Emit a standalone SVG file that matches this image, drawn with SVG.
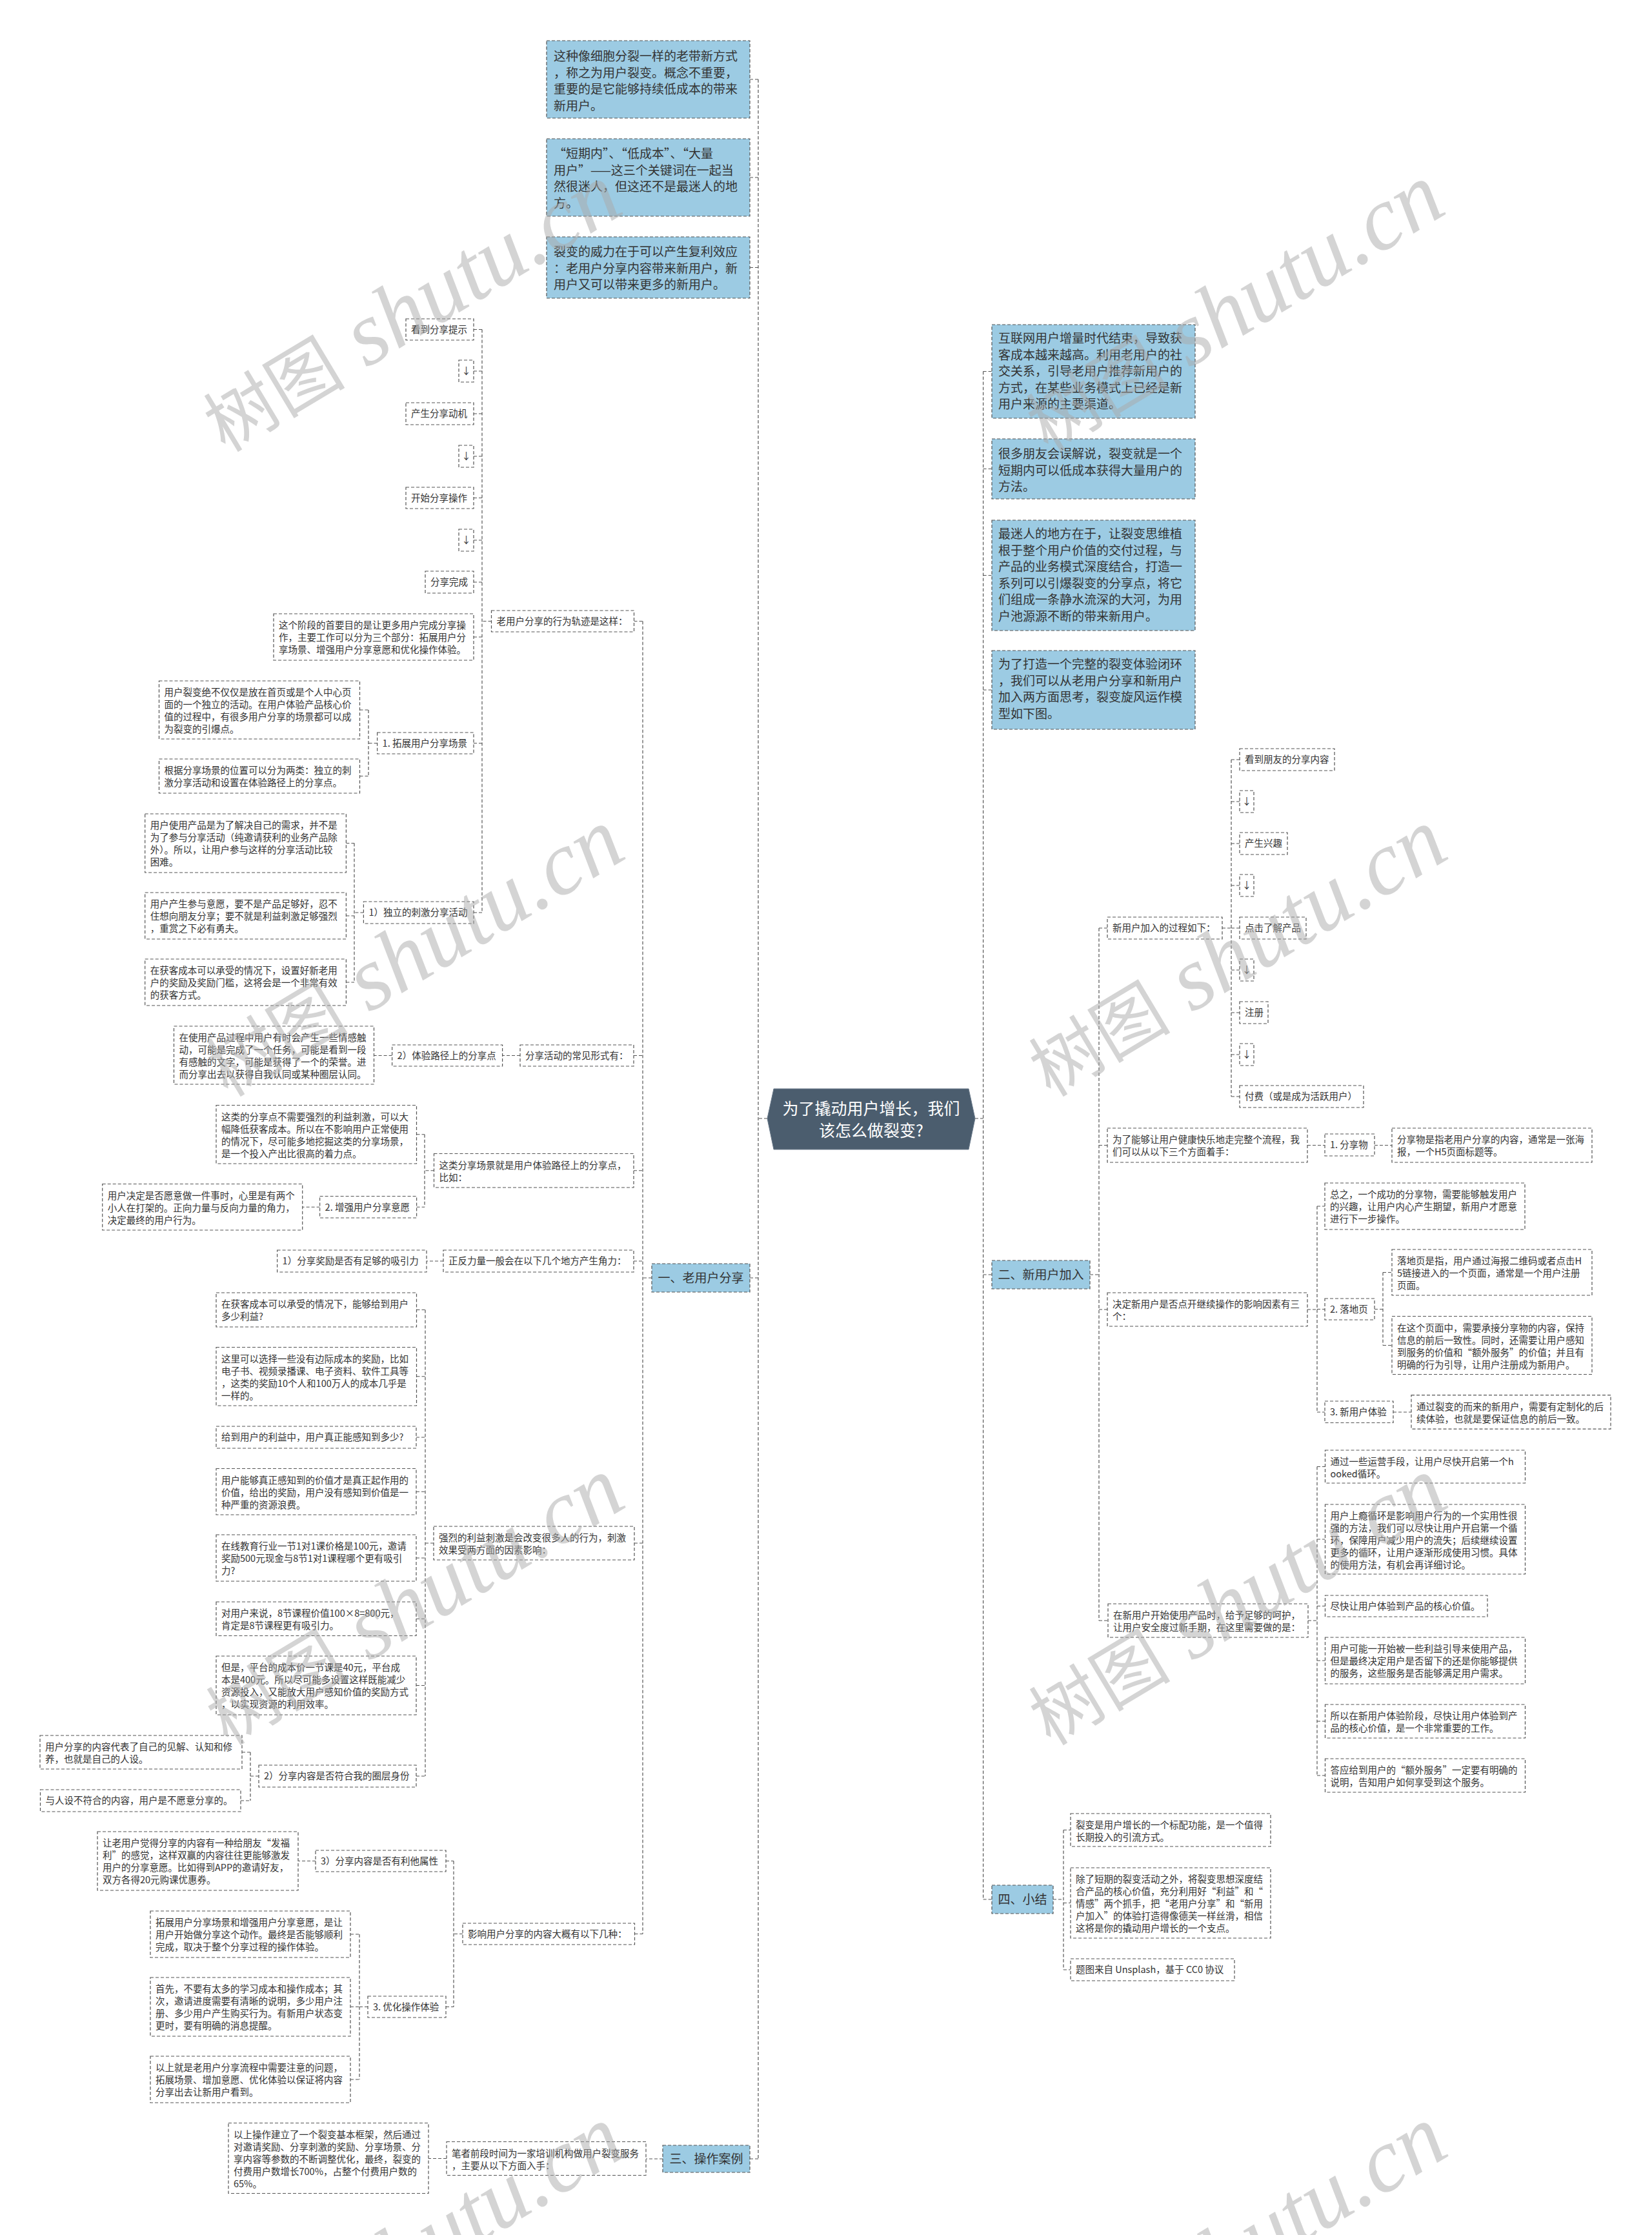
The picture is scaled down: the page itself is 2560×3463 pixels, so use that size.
<svg xmlns="http://www.w3.org/2000/svg" xmlns:xlink="http://www.w3.org/1999/xlink" width="2560" height="3463" viewBox="0 0 2560 3463">
<style>
.n{fill:#fff;stroke:#555;stroke-width:1.2;stroke-dasharray:5 3}
.b{fill:#9ccbe3;stroke:#555;stroke-width:1.2;stroke-dasharray:5 3}
.t{font-family:"Noto Sans CJK SC","Noto Sans",sans-serif;font-size:14.5px;fill:#333}
.tb{font-family:"Noto Sans CJK SC","Noto Sans",sans-serif;font-size:19px;fill:#333}
.tc{font-family:"Noto Sans CJK SC","Noto Sans",sans-serif;font-size:25px;fill:#fff}
.m{text-anchor:middle}
.c{fill:none;stroke:#555;stroke-width:1.2;stroke-dasharray:5 3}
.wm{fill:#aaa;opacity:.5}
</style>
<defs>
<text id="wm" class="wm" transform="rotate(-31)"><tspan style="font-family:'Noto Sans CJK SC',sans-serif;font-size:110px">树图</tspan><tspan style="font-family:'Liberation Serif',serif;font-style:italic;font-size:140px"> shutu.cn</tspan></text>
</defs>
<rect width="2560" height="3463" fill="#fff"/>
<g id="connectors">
<path class="c" d="M1175,123V3345M1162,123H1175M1162,275H1175M1162,414.5H1175M1162,1980H1175M1162,3345H1175M1189,1733H1175
M1523.6,575.5V2943M1523.6,575.5H1537M1523.6,726.5H1537M1523.6,891.5H1537M1523.6,1069H1537M1523.6,1975H1537M1523.6,2943H1537M1511,1733H1523.6
M996,962.5V2996.5M982.5,962.5H996M982,1635.5H996M982,1813.75H996M982,1954H996M983,2391H996M983.5,2996.5H996M1010,1980H996
M747,510.5V1414M761.5,962.5H747M734,510.5H747M734,575H747M734,641H747M734,707H747M734,771.5H747M734,837H747M734,902H747M734,987H747M734,1151.5H747M734,1414H747
M571,1100V1202.5M584.6,1151.5H571M557.5,1100H571M557.5,1202.5H571
M549,1306.5V1522M563.4,1414H549M536.4,1306.5H549M536.4,1419H549M536.4,1522H549
M806,1635.5H778.6M607.6,1635.5H579.5
M658,1757.75V1870.25M672.5,1813.75H658M645.5,1757.75H658M645.6,1870.25H658
M495.6,1870.25H468.7M687,1954H661
M659,2029.5V2752M672,2391H659M645.5,2029.5H659M645.5,2132.75H659M645,2227H659M645,2311.25H659M645,2414H659M645,2508.25H659M645,2611.5H659M645,2752H659
M388,2715V2790M401,2752H388M375,2715H388M373,2790H388
M703,2883.5V3109.5M717,2996.5H703M691,2883.5H703M691,3109.5H703
M489,2883.5H462
M557,2997V3222M570,3109.5H557M543,2997H557M543,3109.5H557M543,3222H557
M1027,3345H1001M692,3344.5H664
M1689,1975H1703M1703,1438V2511M1703,1438H1716M1703,1774.5H1716M1703,2029H1716M1703,2511H1717
M1894,1438H1908M1908,1177V1699M1908,1177H1921M1908,1242H1921M1908,1307H1921M1908,1372H1921M1908,1438H1921M1908,1503H1921M1908,1569H1921M1908,1634H1921M1908,1699H1921
M2026,1774.5H2053M2130,1774.5H2157
M2026,2029H2041M2041,1869V2188M2041,1869H2053M2041,2028.5H2053M2041,2188H2053
M2130,2028.5H2143M2143,1971.5V2084.5M2143,1971.5H2157M2143,2084.5H2157
M2159,2188H2187
M2027,2511H2041M2041,2272.5V2751M2041,2272.5H2053.5M2041,2385H2053.5M2041,2488.5H2053.5M2041,2573H2053.5M2041,2667H2053.5M2041,2751H2053.5
M1632,2943H1648M1648,2835.5V3052M1648,2835.5H1659M1648,2948.5H1659M1648,3052H1659"/>
</g>
<g id="center"><polygon points="1189,1733 1199,1687 1501,1687 1511,1733 1501,1781 1199,1781" fill="#4b5d6e" stroke="#6b7b8b"/><text class="tc m" x="1350" y="1727"><tspan x="1350">为了撬动用户增长，我们</tspan><tspan x="1350" dy="34">该怎么做裂变?</tspan></text></g>
<g id="a1"><rect class="b" x="847" y="63" width="315" height="120"/><text class="tb" x="858" y="94"><tspan x="858">这种像细胞分裂一样的老带新方式</tspan><tspan x="858" dy="25.5">，称之为用户裂变。概念不重要，</tspan><tspan x="858" dy="25.5">重要的是它能够持续低成本的带来</tspan><tspan x="858" dy="25.5">新用户。</tspan></text></g>
<g id="a2"><rect class="b" x="847" y="215" width="315" height="120"/><text class="tb" x="858" y="245"><tspan x="858">“短期内”、“低成本”、“大量</tspan><tspan x="858" dy="25.5">用户”——这三个关键词在一起当</tspan><tspan x="858" dy="25.5">然很迷人，但这还不是最迷人的地</tspan><tspan x="858" dy="25.5">方。</tspan></text></g>
<g id="a3"><rect class="b" x="847" y="367" width="315" height="95"/><text class="tb" x="858" y="397"><tspan x="858">裂变的威力在于可以产生复利效应</tspan><tspan x="858" dy="25.5">：老用户分享内容带来新用户，新</tspan><tspan x="858" dy="25.5">用户又可以带来更多的新用户。</tspan></text></g>
<g id="b1"><rect class="b" x="1537" y="503" width="315" height="145"/><text class="tb" x="1547" y="531"><tspan x="1547">互联网用户增量时代结束，导致获</tspan><tspan x="1547" dy="25.6">客成本越来越高。利用老用户的社</tspan><tspan x="1547" dy="25.6">交关系，引导老用户推荐新用户的</tspan><tspan x="1547" dy="25.6">方式，在某些业务模式上已经是新</tspan><tspan x="1547" dy="25.6">用户来源的主要渠道。</tspan></text></g>
<g id="b2"><rect class="b" x="1537" y="680" width="315" height="93"/><text class="tb" x="1547" y="710"><tspan x="1547">很多朋友会误解说，裂变就是一个</tspan><tspan x="1547" dy="25.6">短期内可以低成本获得大量用户的</tspan><tspan x="1547" dy="25.6">方法。</tspan></text></g>
<g id="b3"><rect class="b" x="1537" y="806" width="315" height="171"/><text class="tb" x="1547" y="834"><tspan x="1547">最迷人的地方在于，让裂变思维植</tspan><tspan x="1547" dy="25.6">根于整个用户价值的交付过程，与</tspan><tspan x="1547" dy="25.6">产品的业务模式深度结合，打造一</tspan><tspan x="1547" dy="25.6">系列可以引爆裂变的分享点，将它</tspan><tspan x="1547" dy="25.6">们组成一条静水流深的大河，为用</tspan><tspan x="1547" dy="25.6">户池源源不断的带来新用户。</tspan></text></g>
<g id="b4"><rect class="b" x="1537" y="1008" width="315" height="122"/><text class="tb" x="1547" y="1036"><tspan x="1547">为了打造一个完整的裂变体验闭环</tspan><tspan x="1547" dy="25.6">，我们可以从老用户分享和新用户</tspan><tspan x="1547" dy="25.6">加入两方面思考，裂变旋风运作模</tspan><tspan x="1547" dy="25.6">型如下图。</tspan></text></g>
<g id="l1"><rect class="b" x="1010" y="1958" width="152" height="44"/><text class="tb m" x="1086" y="1987">一、老用户分享</text></g>
<g id="l2"><rect class="b" x="1537" y="1953" width="152" height="44"/><text class="tb m" x="1613" y="1982">二、新用户加入</text></g>
<g id="l3"><rect class="b" x="1027" y="3324" width="135" height="42"/><text class="tb m" x="1094.5" y="3352">三、操作案例</text></g>
<g id="l4"><rect class="b" x="1537" y="2921" width="95" height="44"/><text class="tb m" x="1584.5" y="2950">四、小结</text></g>
<g id="s1"><rect class="n" x="629" y="494" width="105" height="33"/><text class="t" x="637" y="515.8">看到分享提示</text></g>
<g id="s2"><rect class="n" x="711" y="558" width="23" height="34"/><text class="t m" x="722.5" y="580.3">↓</text></g>
<g id="s3"><rect class="n" x="629" y="624" width="105" height="34"/><text class="t" x="637" y="646.3">产生分享动机</text></g>
<g id="s4"><rect class="n" x="711" y="690" width="23" height="34"/><text class="t m" x="722.5" y="712.3">↓</text></g>
<g id="s5"><rect class="n" x="629" y="755" width="105" height="33"/><text class="t" x="637" y="776.8">开始分享操作</text></g>
<g id="s6"><rect class="n" x="711" y="820" width="23" height="34"/><text class="t m" x="722.5" y="842.3">↓</text></g>
<g id="s7"><rect class="n" x="659" y="885" width="75" height="34"/><text class="t" x="667" y="907.3">分享完成</text></g>
<g id="s8"><rect class="n" x="424" y="951" width="310" height="72"/><text class="t" x="432" y="974"><tspan x="432">这个阶段的首要目的是让更多用户完成分享操</tspan><tspan x="432" dy="19.1">作，主要工作可以分为三个部分：拓展用户分</tspan><tspan x="432" dy="19.1">享场景、增强用户分享意愿和优化操作体验。</tspan></text></g>
<g id="s9"><rect class="n" x="761.5" y="946" width="221" height="33"/><text class="t" x="769.5" y="967.8">老用户分享的行为轨迹是这样：</text></g>
<g id="s10"><rect class="n" x="246.5" y="1055" width="311" height="90"/><text class="t" x="254.5" y="1078"><tspan x="254.5">用户裂变绝不仅仅是放在首页或是个人中心页</tspan><tspan x="254.5" dy="19.1">面的一个独立的活动。在用户体验产品核心价</tspan><tspan x="254.5" dy="19.1">值的过程中，有很多用户分享的场景都可以成</tspan><tspan x="254.5" dy="19.1">为裂变的引爆点。</tspan></text></g>
<g id="s11"><rect class="n" x="246.5" y="1176" width="311" height="53"/><text class="t" x="254.5" y="1199"><tspan x="254.5">根据分享场景的位置可以分为两类：独立的刺</tspan><tspan x="254.5" dy="19.1">激分享活动和设置在体验路径上的分享点。</tspan></text></g>
<g id="s12"><rect class="n" x="584.6" y="1135" width="149.4" height="33"/><text class="t" x="592.6" y="1156.8">1. 拓展用户分享场景</text></g>
<g id="s13"><rect class="n" x="224.7" y="1261" width="311.7" height="91"/><text class="t" x="232.7" y="1284"><tspan x="232.7">用户使用产品是为了解决自己的需求，并不是</tspan><tspan x="232.7" dy="19.1">为了参与分享活动（纯邀请获利的业务产品除</tspan><tspan x="232.7" dy="19.1">外）。所以，让用户参与这样的分享活动比较</tspan><tspan x="232.7" dy="19.1">困难。</tspan></text></g>
<g id="s14"><rect class="n" x="224.7" y="1383" width="311.7" height="72"/><text class="t" x="232.7" y="1406"><tspan x="232.7">用户产生参与意愿，要不是产品足够好，忍不</tspan><tspan x="232.7" dy="19.1">住想向朋友分享；要不就是利益刺激足够强烈</tspan><tspan x="232.7" dy="19.1">，重赏之下必有勇夫。</tspan></text></g>
<g id="s15"><rect class="n" x="224.7" y="1486" width="311.7" height="72"/><text class="t" x="232.7" y="1509"><tspan x="232.7">在获客成本可以承受的情况下，设置好新老用</tspan><tspan x="232.7" dy="19.1">户的奖励及奖励门槛，这将会是一个非常有效</tspan><tspan x="232.7" dy="19.1">的获客方式。</tspan></text></g>
<g id="s16"><rect class="n" x="563.4" y="1397" width="170.6" height="34"/><text class="t" x="571.4" y="1419.3">1）独立的刺激分享活动</text></g>
<g id="s17"><rect class="n" x="269.5" y="1590" width="310" height="90"/><text class="t" x="277.5" y="1613"><tspan x="277.5">在使用产品过程中用户有时会产生一些情感触</tspan><tspan x="277.5" dy="19.1">动，可能是完成了一个任务，可能是看到一段</tspan><tspan x="277.5" dy="19.1">有感触的文字，可能是获得了一个的荣誉。进</tspan><tspan x="277.5" dy="19.1">而分享出去以获得自我认同或某种圈层认同。</tspan></text></g>
<g id="s18"><rect class="n" x="607.6" y="1619" width="171" height="33"/><text class="t" x="615.6" y="1640.8">2）体验路径上的分享点</text></g>
<g id="s19"><rect class="n" x="806" y="1619" width="176" height="33"/><text class="t" x="814" y="1640.8">分享活动的常见形式有：</text></g>
<g id="s20"><rect class="n" x="335" y="1712.5" width="310.5" height="90.5"/><text class="t" x="343" y="1735.5"><tspan x="343">这类的分享点不需要强烈的利益刺激，可以大</tspan><tspan x="343" dy="19.1">幅降低获客成本。所以在不影响用户正常使用</tspan><tspan x="343" dy="19.1">的情况下，尽可能多地挖掘这类的分享场景，</tspan><tspan x="343" dy="19.1">是一个投入产出比很高的着力点。</tspan></text></g>
<g id="s21"><rect class="n" x="672.5" y="1787.5" width="309.5" height="52.5"/><text class="t" x="680.5" y="1810.5"><tspan x="680.5">这类分享场景就是用户体验路径上的分享点，</tspan><tspan x="680.5" dy="19.1">比如：</tspan></text></g>
<g id="s22"><rect class="n" x="495.6" y="1853.5" width="150" height="33.5"/><text class="t" x="503.6" y="1875.6">2. 增强用户分享意愿</text></g>
<g id="s23"><rect class="n" x="158.7" y="1834.5" width="310" height="71.5"/><text class="t" x="166.7" y="1857.5"><tspan x="166.7">用户决定是否愿意做一件事时，心里是有两个</tspan><tspan x="166.7" dy="19.1">小人在打架的。正向力量与反向力量的角力，</tspan><tspan x="166.7" dy="19.1">决定最终的用户行为。</tspan></text></g>
<g id="s24"><rect class="n" x="687" y="1937" width="295" height="34"/><text class="t" x="695" y="1959.3">正反力量一般会在以下几个地方产生角力：</text></g>
<g id="s25"><rect class="n" x="429.6" y="1937" width="231.4" height="34"/><text class="t" x="437.6" y="1959.3">1）分享奖励是否有足够的吸引力</text></g>
<g id="s26"><rect class="n" x="335" y="2003" width="310.5" height="53"/><text class="t" x="343" y="2026"><tspan x="343">在获客成本可以承受的情况下，能够给到用户</tspan><tspan x="343" dy="19.1">多少利益?</tspan></text></g>
<g id="s27"><rect class="n" x="335" y="2087.5" width="310.5" height="90.5"/><text class="t" x="343" y="2110.5"><tspan x="343">这里可以选择一些没有边际成本的奖励，比如</tspan><tspan x="343" dy="19.1">电子书、视频录播课、电子资料、软件工具等</tspan><tspan x="343" dy="19.1">，这类的奖励10个人和100万人的成本几乎是</tspan><tspan x="343" dy="19.1">一样的。</tspan></text></g>
<g id="s28"><rect class="n" x="335" y="2210" width="310" height="34"/><text class="t" x="343" y="2232.3">给到用户的利益中，用户真正能感知到多少?</text></g>
<g id="s29"><rect class="n" x="335" y="2275.5" width="310" height="71.5"/><text class="t" x="343" y="2298.5"><tspan x="343">用户能够真正感知到的价值才是真正起作用的</tspan><tspan x="343" dy="19.1">价值，给出的奖励，用户没有感知到价值是一</tspan><tspan x="343" dy="19.1">种严重的资源浪费。</tspan></text></g>
<g id="s30"><rect class="n" x="335" y="2378" width="310" height="72"/><text class="t" x="343" y="2401"><tspan x="343">在线教育行业一节1对1课价格是100元，邀请</tspan><tspan x="343" dy="19.1">奖励500元现金与8节1对1课程哪个更有吸引</tspan><tspan x="343" dy="19.1">力?</tspan></text></g>
<g id="s31"><rect class="n" x="335" y="2482" width="310" height="52.5"/><text class="t" x="343" y="2505"><tspan x="343">对用户来说，8节课程价值100×8=800元，</tspan><tspan x="343" dy="19.1">肯定是8节课程更有吸引力。</tspan></text></g>
<g id="s32"><rect class="n" x="335" y="2566" width="310" height="91"/><text class="t" x="343" y="2589"><tspan x="343">但是，平台的成本价一节课是40元，平台成</tspan><tspan x="343" dy="19.1">本是400元。所以尽可能多设置这样既能减少</tspan><tspan x="343" dy="19.1">资源投入，又能放大用户感知价值的奖励方式</tspan><tspan x="343" dy="19.1">，以实现资源的利用效率。</tspan></text></g>
<g id="s33"><rect class="n" x="672" y="2365" width="311" height="52"/><text class="t" x="680" y="2388"><tspan x="680">强烈的利益刺激是会改变很多人的行为，刺激</tspan><tspan x="680" dy="19.1">效果受两方面的因素影响：</tspan></text></g>
<g id="s34"><rect class="n" x="62" y="2689" width="313" height="52"/><text class="t" x="70" y="2712"><tspan x="70">用户分享的内容代表了自己的见解、认知和修</tspan><tspan x="70" dy="19.1">养，也就是自己的人设。</tspan></text></g>
<g id="s35"><rect class="n" x="401" y="2735" width="244" height="34"/><text class="t" x="409" y="2757.3">2）分享内容是否符合我的圈层身份</text></g>
<g id="s36"><rect class="n" x="62.5" y="2773" width="310.5" height="34"/><text class="t" x="70.5" y="2795.3">与人设不符合的内容，用户是不愿意分享的。</text></g>
<g id="s37"><rect class="n" x="151" y="2838" width="311" height="91"/><text class="t" x="159" y="2861"><tspan x="159">让老用户觉得分享的内容有一种给朋友“发福</tspan><tspan x="159" dy="19.1">利”的感觉，这样双赢的内容往往更能够激发</tspan><tspan x="159" dy="19.1">用户的分享意愿。比如得到APP的邀请好友，</tspan><tspan x="159" dy="19.1">双方各得20元购课优惠券。</tspan></text></g>
<g id="s38"><rect class="n" x="489" y="2867" width="202" height="33"/><text class="t" x="497" y="2888.8">3）分享内容是否有利他属性</text></g>
<g id="s39"><rect class="n" x="717" y="2980" width="266.5" height="33"/><text class="t" x="725" y="3001.8">影响用户分享的内容大概有以下几种：</text></g>
<g id="s40"><rect class="n" x="233" y="2961" width="310" height="72"/><text class="t" x="241" y="2984"><tspan x="241">拓展用户分享场景和增强用户分享意愿，是让</tspan><tspan x="241" dy="19.1">用户开始做分享这个动作。最终是否能够顺利</tspan><tspan x="241" dy="19.1">完成，取决于整个分享过程的操作体验。</tspan></text></g>
<g id="s41"><rect class="n" x="233" y="3064" width="310" height="91"/><text class="t" x="241" y="3087"><tspan x="241">首先，不要有太多的学习成本和操作成本；其</tspan><tspan x="241" dy="19.1">次，邀请进度需要有清晰的说明，多少用户注</tspan><tspan x="241" dy="19.1">册、多少用户产生购买行为。有新用户状态变</tspan><tspan x="241" dy="19.1">更时，要有明确的消息提醒。</tspan></text></g>
<g id="s42"><rect class="n" x="233" y="3186" width="310" height="72"/><text class="t" x="241" y="3209"><tspan x="241">以上就是老用户分享流程中需要注意的问题，</tspan><tspan x="241" dy="19.1">拓展场景、增加意愿、优化体验以保证将内容</tspan><tspan x="241" dy="19.1">分享出去让新用户看到。</tspan></text></g>
<g id="s43"><rect class="n" x="570" y="3093" width="121" height="33"/><text class="t" x="578" y="3114.8">3. 优化操作体验</text></g>
<g id="s44"><rect class="n" x="692" y="3318.5" width="309" height="52"/><text class="t" x="700" y="3341.5"><tspan x="700">笔者前段时间为一家培训机构做用户裂变服务</tspan><tspan x="700" dy="19.1">，主要从以下方面入手：</tspan></text></g>
<g id="s45"><rect class="n" x="354" y="3289.5" width="310" height="109"/><text class="t" x="362" y="3312.5"><tspan x="362">以上操作建立了一个裂变基本框架，然后通过</tspan><tspan x="362" dy="19.1">对邀请奖励、分享刺激的奖励、分享场景、分</tspan><tspan x="362" dy="19.1">享内容等参数的不断调整优化，最终，裂变的</tspan><tspan x="362" dy="19.1">付费用户数增长700%，占整个付费用户数的</tspan><tspan x="362" dy="19.1">65%。</tspan></text></g>
<g id="r1"><rect class="n" x="1716" y="1421" width="178" height="34"/><text class="t" x="1724" y="1443.3">新用户加入的过程如下：</text></g>
<g id="r2"><rect class="n" x="1921" y="1160" width="147" height="34"/><text class="t" x="1929" y="1182.3">看到朋友的分享内容</text></g>
<g id="r3"><rect class="n" x="1921" y="1225" width="22" height="34"/><text class="t m" x="1932" y="1247.3">↓</text></g>
<g id="r4"><rect class="n" x="1921" y="1290" width="74" height="34"/><text class="t" x="1929" y="1312.3">产生兴趣</text></g>
<g id="r5"><rect class="n" x="1921" y="1355" width="22" height="34"/><text class="t m" x="1932" y="1377.3">↓</text></g>
<g id="r6"><rect class="n" x="1921" y="1421" width="103" height="34"/><text class="t" x="1929" y="1443.3">点击了解产品</text></g>
<g id="r7"><rect class="n" x="1921" y="1486" width="22" height="34"/><text class="t m" x="1932" y="1508.3">↓</text></g>
<g id="r8"><rect class="n" x="1921" y="1552" width="44" height="34"/><text class="t" x="1929" y="1574.3">注册</text></g>
<g id="r9"><rect class="n" x="1921" y="1617" width="22" height="34"/><text class="t m" x="1932" y="1639.3">↓</text></g>
<g id="r10"><rect class="n" x="1921" y="1682" width="192" height="34"/><text class="t" x="1929" y="1704.3">付费（或是成为活跃用户）</text></g>
<g id="r11"><rect class="n" x="1716" y="1748" width="310" height="53"/><text class="t" x="1724" y="1771"><tspan x="1724">为了能够让用户健康快乐地走完整个流程，我</tspan><tspan x="1724" dy="19.1">们可以从以下三个方面着手：</tspan></text></g>
<g id="r12"><rect class="n" x="2053" y="1757" width="77" height="34"/><text class="t" x="2061" y="1779.3">1. 分享物</text></g>
<g id="r13"><rect class="n" x="2157" y="1748" width="310" height="53"/><text class="t" x="2165" y="1771"><tspan x="2165">分享物是指老用户分享的内容，通常是一张海</tspan><tspan x="2165" dy="19.1">报，一个H5页面标题等。</tspan></text></g>
<g id="r14"><rect class="n" x="1716" y="2003" width="310" height="52"/><text class="t" x="1724" y="2026"><tspan x="1724">决定新用户是否点开继续操作的影响因素有三</tspan><tspan x="1724" dy="19.1">个：</tspan></text></g>
<g id="r15"><rect class="n" x="2053" y="1833" width="310" height="72"/><text class="t" x="2061" y="1856"><tspan x="2061">总之，一个成功的分享物，需要能够触发用户</tspan><tspan x="2061" dy="19.1">的兴趣，让用户内心产生期望，新用户才愿意</tspan><tspan x="2061" dy="19.1">进行下一步操作。</tspan></text></g>
<g id="r16"><rect class="n" x="2053" y="2012" width="77" height="33"/><text class="t" x="2061" y="2033.8">2. 落地页</text></g>
<g id="r17"><rect class="n" x="2157" y="1936" width="310" height="71"/><text class="t" x="2165" y="1959"><tspan x="2165">落地页是指，用户通过海报二维码或者点击H</tspan><tspan x="2165" dy="19.1">5链接进入的一个页面，通常是一个用户注册</tspan><tspan x="2165" dy="19.1">页面。</tspan></text></g>
<g id="r18"><rect class="n" x="2157" y="2039.5" width="310" height="90"/><text class="t" x="2165" y="2062.5"><tspan x="2165">在这个页面中，需要承接分享物的内容，保持</tspan><tspan x="2165" dy="19.1">信息的前后一致性。同时，还需要让用户感知</tspan><tspan x="2165" dy="19.1">到服务的价值和“额外服务”的价值；并且有</tspan><tspan x="2165" dy="19.1">明确的行为引导，让用户注册成为新用户。</tspan></text></g>
<g id="r19"><rect class="n" x="2053" y="2171" width="106" height="33.5"/><text class="t" x="2061" y="2193">3. 新用户体验</text></g>
<g id="r20"><rect class="n" x="2187" y="2161.6" width="309" height="52.5"/><text class="t" x="2195" y="2184.6"><tspan x="2195">通过裂变的而来的新用户，需要有定制化的后</tspan><tspan x="2195" dy="19.1">续体验，也就是要保证信息的前后一致。</tspan></text></g>
<g id="r21"><rect class="n" x="1717" y="2485" width="310" height="52"/><text class="t" x="1725" y="2508"><tspan x="1725">在新用户开始使用产品时，给予足够的呵护，</tspan><tspan x="1725" dy="19.1">让用户安全度过新手期，在这里需要做的是：</tspan></text></g>
<g id="r22"><rect class="n" x="2053.5" y="2247" width="310" height="51"/><text class="t" x="2061.5" y="2270"><tspan x="2061.5">通过一些运营手段，让用户尽快开启第一个h</tspan><tspan x="2061.5" dy="19.1">ooked循环。</tspan></text></g>
<g id="r23"><rect class="n" x="2053.5" y="2331" width="310" height="108"/><text class="t" x="2061.5" y="2354"><tspan x="2061.5">用户上瘾循环是影响用户行为的一个实用性很</tspan><tspan x="2061.5" dy="19">强的方法，我们可以尽快让用户开启第一个循</tspan><tspan x="2061.5" dy="19">环，保障用户减少用户的流失；后续继续设置</tspan><tspan x="2061.5" dy="19">更多的循环，让用户逐渐形成使用习惯。具体</tspan><tspan x="2061.5" dy="19">的使用方法，有机会再详细讨论。</tspan></text></g>
<g id="r24"><rect class="n" x="2053.5" y="2472" width="251.5" height="33"/><text class="t" x="2061.5" y="2493.8">尽快让用户体验到产品的核心价值。</text></g>
<g id="r25"><rect class="n" x="2053.5" y="2537" width="310" height="72"/><text class="t" x="2061.5" y="2560"><tspan x="2061.5">用户可能一开始被一些利益引导来使用产品，</tspan><tspan x="2061.5" dy="19">但是最终决定用户是否留下的还是你能够提供</tspan><tspan x="2061.5" dy="19">的服务，这些服务是否能够满足用户需求。</tspan></text></g>
<g id="r26"><rect class="n" x="2053.5" y="2641" width="310" height="52"/><text class="t" x="2061.5" y="2664"><tspan x="2061.5">所以在新用户体验阶段，尽快让用户体验到产</tspan><tspan x="2061.5" dy="19">品的核心价值，是一个非常重要的工作。</tspan></text></g>
<g id="r27"><rect class="n" x="2053.5" y="2725" width="310" height="52"/><text class="t" x="2061.5" y="2748"><tspan x="2061.5">答应给到用户的“额外服务”一定要有明确的</tspan><tspan x="2061.5" dy="19">说明，告知用户如何享受到这个服务。</tspan></text></g>
<g id="r28"><rect class="n" x="1659" y="2810" width="310" height="51"/><text class="t" x="1667" y="2833"><tspan x="1667">裂变是用户增长的一个标配功能，是一个值得</tspan><tspan x="1667" dy="19">长期投入的引流方式。</tspan></text></g>
<g id="r29"><rect class="n" x="1659" y="2894" width="310" height="109"/><text class="t" x="1667" y="2917"><tspan x="1667">除了短期的裂变活动之外，将裂变思想深度结</tspan><tspan x="1667" dy="19">合产品的核心价值，充分利用好“利益”和“</tspan><tspan x="1667" dy="19">情感”两个抓手，把“老用户分享”和“新用</tspan><tspan x="1667" dy="19">户加入”的体验打造得像德芙一样丝滑，相信</tspan><tspan x="1667" dy="19">这将是你的撬动用户增长的一个支点。</tspan></text></g>
<g id="r30"><rect class="n" x="1659" y="3035" width="254" height="34"/><text class="t" x="1667" y="3057.3">题图来自 Unsplash，基于 CC0 协议</text></g>
<g id="watermarks">
<use xlink:href="#wm" x="349" y="702"/>
<use xlink:href="#wm" x="1624" y="702"/>
<use xlink:href="#wm" x="353" y="1701"/>
<use xlink:href="#wm" x="1628" y="1701"/>
<use xlink:href="#wm" x="353" y="2706"/>
<use xlink:href="#wm" x="1628" y="2706"/>
<use xlink:href="#wm" x="353" y="3711"/>
<use xlink:href="#wm" x="1628" y="3711"/>
</g>
</svg>
